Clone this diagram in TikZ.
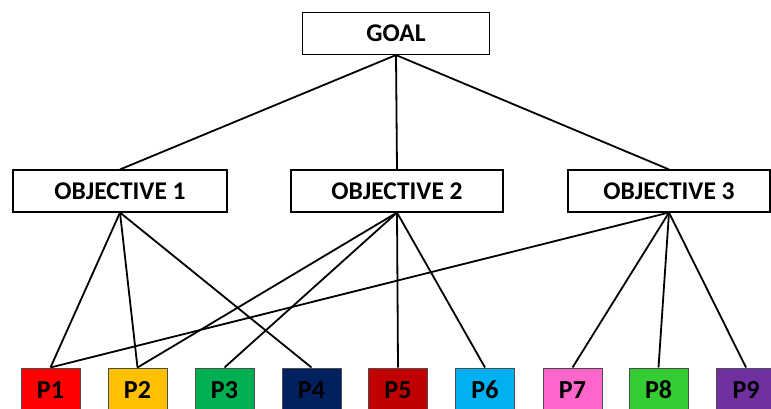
\documentclass[tikz,border=0pt]{standalone}
\usepackage{fontspec}
\setmainfont{Carlito}
\definecolor{pred}{RGB}{255,0,0}
\definecolor{pamber}{RGB}{255,192,0}
\definecolor{pgreen}{RGB}{0,176,80}
\definecolor{pnavy}{RGB}{0,32,96}
\definecolor{pdark}{RGB}{192,0,0}
\definecolor{pblue}{RGB}{0,176,240}
\definecolor{ppink}{RGB}{255,102,204}
\definecolor{plime}{RGB}{51,204,51}
\definecolor{ppurple}{RGB}{112,48,160}
\begin{document}
\begin{tikzpicture}[x=1pt, y=-1pt, line width=1.8pt,
    box/.style={rectangle, draw, line width=1.1pt, minimum height=42pt, font=\fontsize{25.5}{28}\selectfont\bfseries},
    pbox/.style={rectangle, draw=black!70, line width=1pt, minimum width=59pt, minimum height=44pt, font=\fontsize{26}{29}\selectfont\bfseries}]
      \useasboundingbox (0,0) rectangle (771,409);
      \node (goal) at (396,33.5) [box, minimum width=187pt] {GOAL};
      \node (o1) at (120,191) [box, minimum width=214pt] {OBJECTIVE 1};
      \node (o2) at (397,191) [box, minimum width=212pt] {OBJECTIVE 2};
      \node (o3) at (669,191) [box, minimum width=202pt] {OBJECTIVE 3};
      \node (p1) at (50.5,390) [pbox, fill=pred] {P1};
      \node (p2) at (137.5,390) [pbox, fill=pamber] {P2};
      \node (p3) at (224.5,390) [pbox, fill=pgreen] {P3};
      \node (p4) at (311.5,390) [pbox, fill=pnavy] {P4};
      \node (p5) at (398,390) [pbox, fill=pdark] {P5};
      \node (p6) at (485,390) [pbox, fill=pblue] {P6};
      \node (p7) at (572.5,390) [pbox, fill=ppink] {P7};
      \node (p8) at (658.5,390) [pbox, fill=plime] {P8};
      \node (p9) at (746,390) [pbox, fill=ppurple] {P9};
      \foreach \source/\dest in {goal/o1, goal/o2, goal/o3, o1/p1, o1/p2, o1/p4, o2/p2, o2/p3, o2/p5, o2/p6, o3/p1, o3/p7, o3/p8, o3/p9}
        \draw (\source.south) -- (\dest.north);
    \end{tikzpicture}
\end{document}
